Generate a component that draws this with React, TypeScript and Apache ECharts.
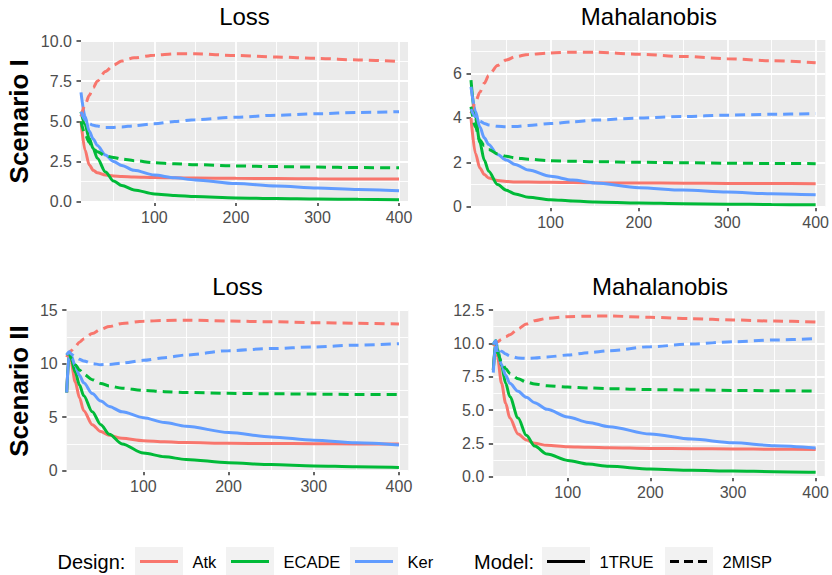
import React, { useEffect, useRef } from "react";
import * as echarts from "echarts";

// ---------- data ----------
const NX1 = [10, 15, 20, 25, 30, 40, 50, 60, 75, 100, 125, 150, 200, 250, 300, 350, 400];
const NX2 = [10, 13, 15, 20, 25, 30, 40, 50, 60, 75, 100, 125, 150, 200, 250, 300, 350, 400];

const DESIGNS = ["Atk", "ECADE", "Ker"];
const MODELS = ["1TRUE", "2MISP"];
const COLORS = ["#F8766D", "#00BA38", "#619CFF"];

// Scenario I - Loss
const S1_LOSS_ATK_TRUE = [5.0, 3.2, 2.3, 1.95, 1.8, 1.65, 1.6, 1.56, 1.53, 1.5, 1.48, 1.47, 1.45, 1.44, 1.42, 1.41, 1.4];
const S1_LOSS_ECADE_TRUE = [5.6, 4.8, 3.95, 3.3, 2.7, 1.85, 1.28, 1.0, 0.73, 0.48, 0.38, 0.31, 0.23, 0.19, 0.16, 0.14, 0.12];
const S1_LOSS_KER_TRUE = [6.8, 5.3, 4.4, 3.9, 3.5, 2.9, 2.5, 2.25, 1.95, 1.65, 1.48, 1.35, 1.12, 0.97, 0.85, 0.76, 0.68];
const S1_LOSS_ATK_MISP = [5.3, 6.0, 6.6, 7.1, 7.5, 8.1, 8.5, 8.75, 8.95, 9.12, 9.2, 9.2, 9.1, 9.0, 8.92, 8.82, 8.72];
const S1_LOSS_ECADE_MISP = [5.0, 4.2, 3.7, 3.3, 3.1, 2.85, 2.75, 2.65, 2.55, 2.42, 2.35, 2.3, 2.22, 2.18, 2.15, 2.12, 2.1];
const S1_LOSS_KER_MISP = [5.6, 5.1, 4.85, 4.75, 4.7, 4.62, 4.62, 4.65, 4.72, 4.85, 4.98, 5.1, 5.25, 5.38, 5.47, 5.55, 5.6];

// Scenario I - Mahalanobis
const S1_MAH_ATK_TRUE = [4.0, 2.4, 1.75, 1.45, 1.3, 1.18, 1.14, 1.12, 1.11, 1.1, 1.09, 1.08, 1.07, 1.06, 1.05, 1.045, 1.04];
const S1_MAH_ECADE_TRUE = [5.7, 4.0, 2.9, 2.1, 1.6, 1.0, 0.74, 0.58, 0.43, 0.32, 0.26, 0.22, 0.17, 0.14, 0.12, 0.1, 0.09];
const S1_MAH_KER_TRUE = [5.4, 4.3, 3.6, 3.1, 2.8, 2.35, 2.1, 1.9, 1.65, 1.37, 1.2, 1.07, 0.86, 0.75, 0.66, 0.59, 0.54];
const S1_MAH_ATK_MISP = [4.2, 4.7, 5.15, 5.55, 5.9, 6.35, 6.6, 6.75, 6.85, 6.92, 6.95, 6.95, 6.86, 6.76, 6.66, 6.57, 6.48];
const S1_MAH_ECADE_MISP = [4.5, 3.6, 3.0, 2.75, 2.58, 2.38, 2.27, 2.2, 2.14, 2.07, 2.05, 2.03, 2.0, 1.98, 1.96, 1.95, 1.94];
const S1_MAH_KER_MISP = [4.4, 4.05, 3.85, 3.75, 3.68, 3.62, 3.6, 3.61, 3.66, 3.74, 3.82, 3.9, 3.99, 4.06, 4.12, 4.16, 4.19];

// Scenario II - Loss
const S2_LOSS_ATK_TRUE = [7.3, 11.0, 10.2, 8.3, 6.8, 5.6, 4.3, 3.65, 3.3, 3.02, 2.8, 2.7, 2.63, 2.56, 2.54, 2.52, 2.5, 2.49];
const S2_LOSS_ECADE_TRUE = [7.3, 11.0, 10.5, 9.2, 8.0, 7.0, 5.5, 4.3, 3.4, 2.5, 1.65, 1.3, 1.05, 0.75, 0.57, 0.45, 0.37, 0.31];
const S2_LOSS_KER_TRUE = [7.3, 11.1, 10.8, 9.8, 8.9, 8.2, 7.2, 6.5, 6.0, 5.5, 4.95, 4.5, 4.15, 3.57, 3.15, 2.85, 2.6, 2.4];
const S2_LOSS_ATK_MISP = [10.6, 11.0, 11.2, 11.6, 12.0, 12.3, 12.8, 13.2, 13.45, 13.75, 13.95, 14.02, 14.05, 13.97, 13.9, 13.82, 13.76, 13.7];
const S2_LOSS_ECADE_MISP = [10.8, 11.0, 10.5, 9.9, 9.4, 9.0, 8.5, 8.15, 7.9, 7.7, 7.5, 7.38, 7.3, 7.22, 7.18, 7.15, 7.12, 7.1];
const S2_LOSS_KER_MISP = [10.8, 11.1, 10.9, 10.6, 10.4, 10.25, 10.0, 9.9, 9.92, 10.05, 10.3, 10.55, 10.8, 11.2, 11.4, 11.55, 11.72, 11.85];

// Scenario II - Mahalanobis
const S2_MAH_ATK_TRUE = [8.0, 10.0, 9.0, 7.0, 5.5, 4.4, 3.2, 2.75, 2.5, 2.35, 2.24, 2.2, 2.17, 2.12, 2.1, 2.08, 2.06, 2.04];
const S2_MAH_ECADE_TRUE = [8.0, 10.2, 9.6, 8.3, 7.0, 6.0, 4.4, 3.1, 2.3, 1.7, 1.22, 0.95, 0.78, 0.57, 0.48, 0.42, 0.38, 0.34];
const S2_MAH_KER_TRUE = [7.8, 10.1, 9.4, 8.4, 7.6, 7.0, 6.4, 5.95, 5.55, 5.05, 4.48, 4.07, 3.75, 3.2, 2.82, 2.55, 2.33, 2.16];
const S2_MAH_ATK_MISP = [9.8, 10.0, 10.1, 10.3, 10.5, 10.65, 11.1, 11.45, 11.7, 11.87, 12.0, 12.04, 12.05, 11.95, 11.85, 11.75, 11.67, 11.6];
const S2_MAH_ECADE_MISP = [9.9, 10.2, 9.3, 8.6, 8.1, 7.75, 7.35, 7.1, 6.95, 6.82, 6.72, 6.65, 6.6, 6.53, 6.5, 6.47, 6.45, 6.42];
const S2_MAH_KER_MISP = [9.9, 10.2, 9.7, 9.4, 9.2, 9.05, 8.9, 8.88, 8.9, 8.98, 9.12, 9.3, 9.45, 9.75, 9.95, 10.12, 10.25, 10.35];

// ticks
const X_MAJOR = [100, 200, 300, 400];
const X_MINOR = [50, 150, 250, 350];
const Y1_MAJOR = [0, 2.5, 5, 7.5, 10];
const Y1_MINOR = [1.25, 3.75, 6.25, 8.75];
const Y2_MAJOR = [0, 2, 4, 6];
const Y2_MINOR = [1, 3, 5, 7];
const Y3_MAJOR = [0, 5, 10, 15];
const Y3_MINOR = [2.5, 7.5, 12.5];
const Y4_MAJOR = [0, 2.5, 5, 7.5, 10, 12.5];
const Y4_MINOR = [1.25, 3.75, 6.25, 8.75, 11.25];

const TITLES = ["Loss", "Mahalanobis", "Loss", "Mahalanobis"];
const ROW_LABELS = ["Scenario I", "Scenario II"];

// ---------- layout ----------
const FONT = "Liberation Sans, Arial, Helvetica, sans-serif";
const PANELS = [
  { left: 81, top: 41, right: 408, bottom: 201.6, x: NX1, yMax: 10, yMajor: Y1_MAJOR, yMinor: Y1_MINOR, dec: 1,
    data: [[S1_LOSS_ATK_TRUE, S1_LOSS_ATK_MISP], [S1_LOSS_ECADE_TRUE, S1_LOSS_ECADE_MISP], [S1_LOSS_KER_TRUE, S1_LOSS_KER_MISP]] },
  { left: 471, top: 40, right: 826.7, bottom: 206.8, x: NX1, yMax: 7.5, yMajor: Y2_MAJOR, yMinor: Y2_MINOR, dec: 0,
    data: [[S1_MAH_ATK_TRUE, S1_MAH_ATK_MISP], [S1_MAH_ECADE_TRUE, S1_MAH_ECADE_MISP], [S1_MAH_KER_TRUE, S1_MAH_KER_MISP]] },
  { left: 66.7, top: 310, right: 408.3, bottom: 470.7, x: NX2, yMax: 15, yMajor: Y3_MAJOR, yMinor: Y3_MINOR, dec: 0,
    data: [[S2_LOSS_ATK_TRUE, S2_LOSS_ATK_MISP], [S2_LOSS_ECADE_TRUE, S2_LOSS_ECADE_MISP], [S2_LOSS_KER_TRUE, S2_LOSS_KER_MISP]] },
  { left: 493.3, top: 310, right: 826.7, bottom: 476.7, x: NX2, yMax: 12.5, yMajor: Y4_MAJOR, yMinor: Y4_MINOR, dec: 1,
    data: [[S2_MAH_ATK_TRUE, S2_MAH_ATK_MISP], [S2_MAH_ECADE_TRUE, S2_MAH_ECADE_MISP], [S2_MAH_KER_TRUE, S2_MAH_KER_MISP]] },
];
const TITLE_Y = [16.7, 16.7, 286.7, 286.7];
const ROW_Y = [121.3, 391];
const DASH = [10, 6];

function buildOption() {
  const grid: any[] = [];
  const xAxis: any[] = [];
  const yAxis: any[] = [];
  const series: any[] = [];
  const graphic: any[] = [];

  PANELS.forEach((p, pi) => {
    grid.push({
      left: p.left, top: p.top, width: p.right - p.left, height: p.bottom - p.top,
      show: true, backgroundColor: "#EBEBEB", borderWidth: 0, containLabel: false,
    });
    xAxis.push({
      type: "value", gridIndex: pi, min: 10, max: 411,
      axisLine: { show: false },
      axisTick: { show: true, customValues: X_MAJOR, length: 4.5, lineStyle: { color: "#333333", width: 1.5 } },
      axisLabel: { customValues: X_MAJOR, color: "#4D4D4D", fontSize: 16, fontFamily: FONT, margin: 8 },
      splitLine: { show: false },
    });
    yAxis.push({
      type: "value", gridIndex: pi, min: 0, max: p.yMax,
      axisLine: { show: false },
      axisTick: { show: true, customValues: p.yMajor, length: 4.5, lineStyle: { color: "#333333", width: 1.5 } },
      axisLabel: {
        customValues: p.yMajor, color: "#4D4D4D", fontSize: 16, fontFamily: FONT, margin: 9,
        formatter: (v: number) => v.toFixed(p.dec),
      },
      splitLine: { show: false },
    });

    const gridLines: any[] = [];
    X_MINOR.forEach((v) => gridLines.push({ xAxis: v, lineStyle: { width: 0.9 } }));
    p.yMinor.forEach((v) => gridLines.push({ yAxis: v, lineStyle: { width: 0.9 } }));
    X_MAJOR.forEach((v) => gridLines.push({ xAxis: v, lineStyle: { width: 1.8 } }));
    p.yMajor.forEach((v) => gridLines.push({ yAxis: v, lineStyle: { width: 1.8 } }));

    let first = true;
    MODELS.forEach((m, mi) => {
      DESIGNS.forEach((d, di) => {
        const arr = p.data[di][mi];
        const s: any = {
          type: "line",
          name: d + " " + m,
          xAxisIndex: pi,
          yAxisIndex: pi,
          data: p.x.map((xv, i) => [xv, arr[i]]),
          symbol: "none",
          showSymbol: false,
          smooth: 0.3,
          smoothMonotone: "x",
          z: 3,
          lineStyle: { color: COLORS[di], width: 3, type: mi === 0 ? "solid" : DASH, cap: "butt" },
          emphasis: { disabled: true },
          silent: true,
        };
        if (first) {
          s.markLine = {
            silent: true, z: 1, symbol: ["none", "none"], animation: false,
            label: { show: false },
            lineStyle: { color: "#FFFFFF", type: "solid" },
            emphasis: { disabled: true },
            data: gridLines,
          };
          first = false;
        }
        series.push(s);
      });
    });

    graphic.push({
      type: "text", x: (p.left + p.right) / 2, y: TITLE_Y[pi],
      style: { text: TITLES[pi], fill: "#000000", font: `24px ${FONT}`, align: "center", verticalAlign: "middle" },
    });
  });

  ROW_LABELS.forEach((t, i) => {
    graphic.push({
      type: "text", x: 19.2, y: ROW_Y[i], rotation: Math.PI / 2,
      style: { text: t, fill: "#000000", font: `bold 26px ${FONT}`, align: "center", verticalAlign: "middle" },
    });
  });

  // legend
  const LY = 561.5;
  const boxTop = 547;
  const boxH = 28;
  const boxW = 48;
  graphic.push({ type: "text", x: 57.5, y: LY, style: { text: "Design:", fill: "#000", font: `20px ${FONT}`, align: "left", verticalAlign: "middle" } });
  const designBoxes = [135, 226, 350];
  DESIGNS.forEach((d, i) => {
    const bx = designBoxes[i];
    graphic.push({ type: "rect", shape: { x: bx, y: boxTop, width: boxW, height: boxH }, style: { fill: "#F2F2F2" } });
    graphic.push({ type: "line", shape: { x1: bx + 5, y1: LY, x2: bx + boxW - 5, y2: LY }, style: { stroke: COLORS[i], lineWidth: 3 } });
    graphic.push({ type: "text", x: bx + boxW + 9.5, y: LY, style: { text: d, fill: "#000", font: `16.5px ${FONT}`, align: "left", verticalAlign: "middle" } });
  });
  graphic.push({ type: "text", x: 474, y: LY, style: { text: "Model:", fill: "#000", font: `20px ${FONT}`, align: "left", verticalAlign: "middle" } });
  const modelBoxes = [542, 665];
  MODELS.forEach((m, i) => {
    const bx = modelBoxes[i];
    graphic.push({ type: "rect", shape: { x: bx, y: boxTop, width: boxW, height: boxH }, style: { fill: "#F2F2F2" } });
    graphic.push({
      type: "line", shape: { x1: bx + 5, y1: LY, x2: bx + boxW - 5, y2: LY },
      style: { stroke: "#000000", lineWidth: 3, lineDash: i === 0 ? null : [9, 5] },
    });
    graphic.push({ type: "text", x: bx + boxW + 9.5, y: LY, style: { text: m, fill: "#000", font: `16.5px ${FONT}`, align: "left", verticalAlign: "middle" } });
  });

  return {
    animation: false,
    backgroundColor: "#FFFFFF",
    textStyle: { fontFamily: FONT },
    grid, xAxis, yAxis, series, graphic,
  };
}

export default function App() {
  const ref = useRef<HTMLDivElement>(null);
  useEffect(() => {
    if (!ref.current) return;
    const chart = echarts.init(ref.current, undefined, { renderer: "svg" });
    chart.setOption(buildOption() as any);
    return () => chart.dispose();
  }, []);
  return <div ref={ref} style={{ position: "absolute", left: 0, top: 0, width: 832, height: 575 }} />;
}
